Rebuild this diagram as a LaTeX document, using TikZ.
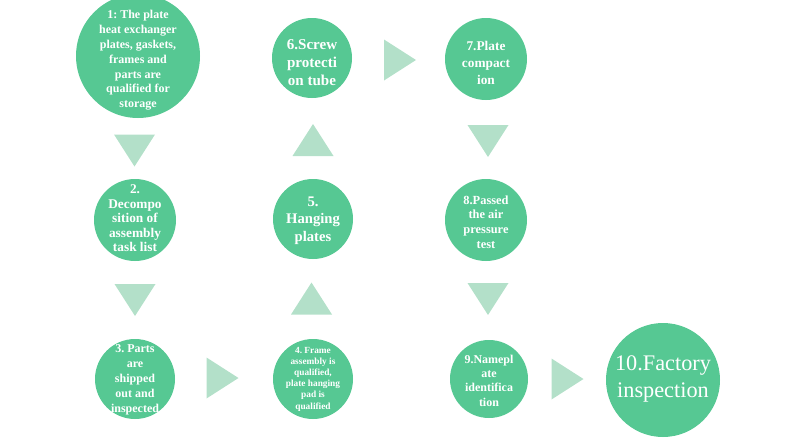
\documentclass[tikz,border=0pt]{standalone}
\usepackage{fontspec}
\setmainfont{Liberation Serif}
\frenchspacing
\definecolor{stagegreen}{RGB}{86,200,147}
\definecolor{arrowgreen}{RGB}{179,224,201}
\tikzset{
    stage/.style={circle, fill=stagegreen, inner sep=0pt},
    stagetext/.style n args={2}{text=white, align=center, inner sep=0pt, font=\fontsize{#1}{#2}\selectfont\bfseries},
    flowtri/.pic={\fill[arrowgreen] (-16,-20.5) -- (16,0) -- (-16,20.5) -- cycle;}
}
\begin{document}
\begin{tikzpicture}[x=0.75pt, y=-0.75pt]
        \useasboundingbox (0,0) rectangle (800,439);

        % stages
        \node[stage, minimum size=93pt] (s1) at (138,56) {};
        \node[stage, minimum size=61.5pt] (s2) at (135,220) {};
        \node[stage, minimum size=60pt] (s3) at (135,379) {};
        \node[stage, minimum size=60pt] (s4) at (313,379) {};
        \node[stage, minimum size=60pt] (s5) at (313,219) {};
        \node[stage, minimum size=60pt] (s6) at (312,58) {};
        \node[stage, minimum size=61.5pt] (s7) at (486,59) {};
        \node[stage, minimum size=61.5pt] (s8) at (486,220) {};
        \node[stage, minimum size=58.5pt] (s9) at (489,379) {};
        \node[stage, minimum size=85.5pt] (s10) at (663,380) {};

        % texts
        \node[stagetext={9}{11.1}] (t1) at (138,60.5) {1: The plate\\heat exchanger\\plates, gaskets,\\frames and\\parts are\\qualified for\\storage};
        \node[stagetext={10}{10.9}] (t2) at (135,218.5) {2.\\Decompo\\sition of\\assembly\\task list};
        \node[stagetext={9}{11.25}] (t3) at (135,380) {3. Parts\\are\\shipped\\out and\\inspected};
        \node[stagetext={7}{8.4}] (t4) at (313,379) {4. Frame\\assembly is\\qualified,\\plate hanging\\pad is\\qualified};
        \node[stagetext={11}{13}] (t5) at (313,220.5) {5.\\Hanging\\plates};
        \node[stagetext={11.3}{13.5}] (t6) at (312,62.5) {6.Screw\\protecti\\on tube};
        \node[stagetext={10}{12.75}] (t7) at (486,63) {7.Plate\\compact\\ion};
        \node[stagetext={9.3}{10.9}] (t8) at (486,222) {8.Passed\\the air\\pressure\\test};
        \node[stagetext={9}{10.75}] (t9) at (489,380.5) {9.Namepl\\ate\\identifica\\tion};
        \node[text=white, align=center, inner sep=0pt, font=\fontsize{16.7}{20}\selectfont] (t10) at (663,379) {10.Factory\\inspection};

        % arrows
        \pic[rotate=-90] (a12) at (134.5,150.5) {flowtri};
        \pic[rotate=-90] (a23) at (135,300) {flowtri};
        \pic (a34) at (222.5,378) {flowtri};
        \pic[rotate=90] (a45) at (311.5,298.5) {flowtri};
        \pic[rotate=90] (a56) at (313,140) {flowtri};
        \pic (a67) at (400,60) {flowtri};
        \pic[rotate=-90] (a78) at (488,141) {flowtri};
        \pic[rotate=-90] (a89) at (488,299) {flowtri};
        \pic (a910) at (567.5,379) {flowtri};
    \end{tikzpicture}
\end{document}
